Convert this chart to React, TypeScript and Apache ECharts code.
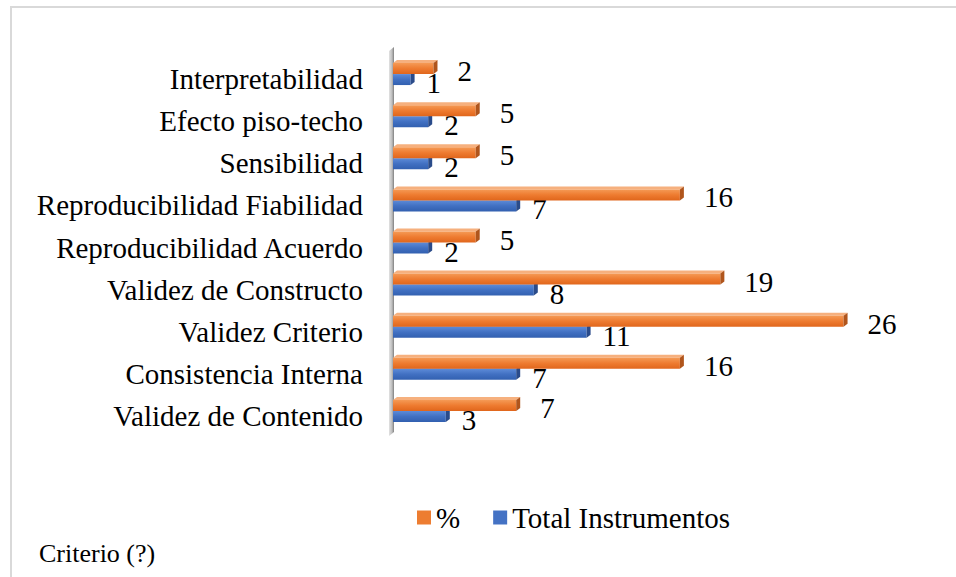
import React, { useEffect, useRef } from "react";
import * as echarts from "echarts";

const categories = [
  "Validez de Contenido",
  "Consistencia Interna",
  "Validez Criterio",
  "Validez de Constructo",
  "Reproducibilidad Acuerdo",
  "Reproducibilidad Fiabilidad",
  "Sensibilidad",
  "Efecto piso-techo",
  "Interpretabilidad",
];
const pctValues = [7.0, 16.3, 25.6, 18.6, 4.7, 16.3, 4.7, 4.7, 2.3];
const totalValues = [3, 7, 11, 8, 2, 7, 2, 2, 1];
const seriesNames = ["%", "Total Instrumentos"];
const footnote = "Criterio (?)";

const FONT = "Liberation Serif";
const DX = 4;
const DY = 3;
const BAR_H = 11;

const palettes = {
  pct: {
    legend: "#ED7D31",
    top: "#F6B07E",
    side: "#B0551C",
    front: ["#F59A55", "#EE7B30", "#E0661C"],
    labelGap: 20,
    labelDy: -3,
  },
  total: {
    legend: "#4472C4",
    top: "#7FA2DE",
    side: "#2A4B8A",
    front: ["#5D8BD8", "#4170C2", "#3260B0"],
    labelGap: 12,
    labelDy: 9,
  },
};

function makeRender(kind: "pct" | "total") {
  const pal = palettes[kind];
  return (params: any, api: any) => {
    const val = api.value(0);
    const cat = api.value(1);
    const p0 = api.coord([0, cat]);
    const p1 = api.coord([val, cat]);
    const c = p0[1];
    const yTop = kind === "pct" ? c - BAR_H : c;
    const yBot = yTop + BAR_H;
    const x0 = p0[0];
    const x1 = p1[0];
    const label = kind === "pct" ? Math.round(val).toString() : String(val);
    return {
      type: "group",
      children: [
        {
          type: "polygon",
          shape: {
            points: [
              [x0, yTop],
              [x1, yTop],
              [x1 + DX, yTop - DY],
              [x0 + DX, yTop - DY],
            ],
          },
          style: { fill: pal.top },
        },
        {
          type: "rect",
          shape: { x: x0, y: yTop, width: x1 - x0, height: BAR_H },
          style: {
            fill: new echarts.graphic.LinearGradient(0, 0, 0, 1, [
              { offset: 0, color: pal.front[0] },
              { offset: 0.5, color: pal.front[1] },
              { offset: 1, color: pal.front[2] },
            ]),
          },
        },
        {
          type: "polygon",
          shape: {
            points: [
              [x1, yTop],
              [x1 + DX, yTop - DY],
              [x1 + DX, yBot - DY],
              [x1, yBot],
            ],
          },
          style: { fill: pal.side },
        },
        {
          type: "text",
          x: x1 + DX + pal.labelGap,
          y: c + pal.labelDy,
          style: {
            text: label,
            fontSize: 29,
            fontFamily: FONT,
            fill: "#000",
            align: "left",
            verticalAlign: "middle",
          },
        },
      ],
    };
  };
}

export default function App() {
  const ref = useRef<HTMLDivElement>(null);

  useEffect(() => {
    if (!ref.current) return;
    const chart = echarts.init(ref.current, null, { renderer: "svg" });
    chart.setOption({
      animation: false,
      backgroundColor: "#ffffff",
      textStyle: { fontFamily: FONT },
      grid: { left: 393, right: 35, top: 53, bottom: 145, containLabel: false },
      xAxis: {
        type: "value",
        min: 0,
        max: 30,
        show: false,
      },
      yAxis: {
        type: "category",
        data: categories,
        axisLine: { show: false },
        axisTick: { show: false },
        splitLine: { show: false },
        axisLabel: {
          margin: 30,
          formatter: (v: string) => `{a|${v}}`,
          rich: {
            a: {
              fontSize: 29,
              fontFamily: FONT,
              color: "#000",
              padding: [10, 0, 0, 0],
            },
          },
        },
      },
      legend: {
        data: seriesNames,
        left: 412,
        top: 498,
        icon: "rect",
        itemWidth: 14,
        itemHeight: 14,
        itemGap: 33,
        textStyle: { fontSize: 29, fontFamily: FONT, color: "#000" },
      },
      graphic: [
        {
          type: "rect",
          shape: { x: 11, y: 7, width: 1200, height: 1200 },
          style: { fill: "none", stroke: "#d9d9d9", lineWidth: 2 },
          z: -10,
        },
        {
          type: "polygon",
          shape: {
            points: [
              [389, 51],
              [394, 47],
              [394, 432],
              [389, 436],
            ],
          },
          style: {
            fill: new echarts.graphic.LinearGradient(0, 0, 1, 0, [
              { offset: 0, color: "#e2e2e2" },
              { offset: 0.6, color: "#bdbdbd" },
              { offset: 1, color: "#7f7f7f" },
            ]),
          },
          z: -5,
        },
        {
          type: "text",
          left: 39,
          top: 540,
          style: {
            text: footnote,
            fontSize: 26,
            fontFamily: FONT,
            fill: "#000",
          },
        },
      ],
      series: [
        {
          name: seriesNames[1],
          type: "custom",
          clip: false,
          z: 2,
          itemStyle: { color: palettes.total.legend },
          encode: { x: 0, y: 1 },
          data: totalValues.map((v, i) => [v, i]),
          renderItem: makeRender("total"),
        },
        {
          name: seriesNames[0],
          type: "custom",
          clip: false,
          z: 3,
          itemStyle: { color: palettes.pct.legend },
          encode: { x: 0, y: 1 },
          data: pctValues.map((v, i) => [v, i]),
          renderItem: makeRender("pct"),
        },
      ],
    });
    return () => chart.dispose();
  }, []);

  return (
    <div
      ref={ref}
      style={{ position: "fixed", left: 0, top: 0, width: 956, height: 577 }}
    />
  );
}
